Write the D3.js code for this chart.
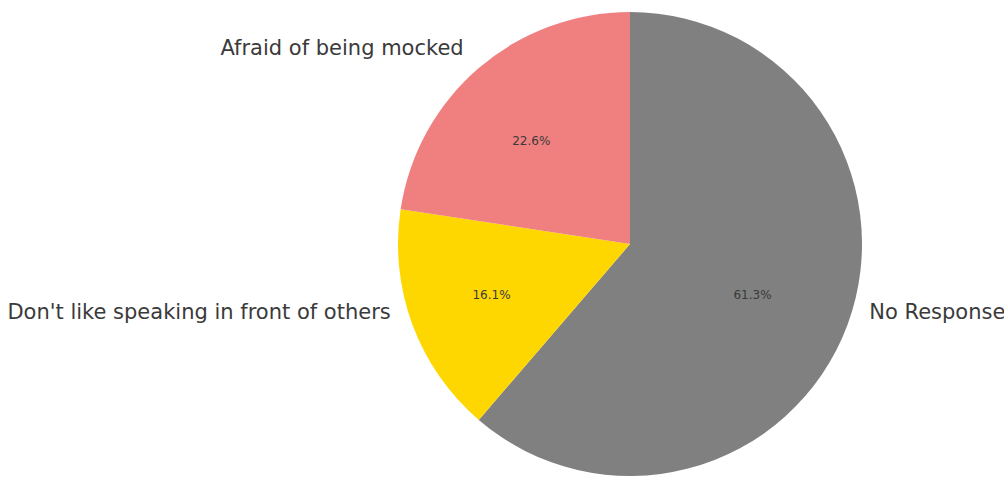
<!DOCTYPE html>
<html>
<head>
<meta charset="utf-8">
<script src="https://cdn.jsdelivr.net/npm/d3@7"></script>
<style>
  html, body { margin: 0; padding: 0; background: #fff; }
  svg { display: block; }
</style>
</head>
<body>
<svg id="chart" width="1004" height="483"></svg>
<script>
// Reasons given for not speaking up (share of respondents)
const categories = ["No Response", "Don't like speaking in front of others", "Afraid of being mocked"];
const values = [61.3, 16.1, 22.6];
const colors = ["#808080", "#FFD700", "#F08080"];

const width = 1004, height = 483;
const cx = 630, cy = 244, radius = 232;

const svg = d3.select("#chart");
const g = svg.append("g").attr("transform", `translate(${cx},${cy})`);

const data = categories.map((c, i) => ({ label: c, value: values[i], color: colors[i] }));

const pie = d3.pie().sort(null).value(d => d.value);
const arcs = pie(data);

const arc = d3.arc().innerRadius(0).outerRadius(radius);

g.selectAll("path.slice")
  .data(arcs)
  .join("path")
  .attr("class", "slice")
  .attr("d", arc)
  .attr("fill", d => d.data.color);

// percentage labels at 0.6 of the radius
const pctArc = d3.arc().innerRadius(radius * 0.6).outerRadius(radius * 0.6);
g.selectAll("text.pct")
  .data(arcs)
  .join("text")
  .attr("class", "pct")
  .attr("transform", d => {
    const [x, y] = pctArc.centroid(d);
    return `translate(${x - 8},${y + 3})`;
  })
  .attr("text-anchor", "middle")
  .attr("dominant-baseline", "central")
  .attr("font-family", "DejaVu Sans, sans-serif")
  .attr("font-size", 12)
  .attr("fill", "#3a3a3a")
  .text(d => d.data.value.toFixed(1) + "%");

// category labels just outside the rim; lower ones sit a little higher
const labelArc = d3.arc().innerRadius(radius * 1.1).outerRadius(radius * 1.1);
g.selectAll("text.cat")
  .data(arcs)
  .join("text")
  .attr("class", "cat")
  .attr("transform", d => {
    const [x, y] = labelArc.centroid(d);
    const ny = y > 0 ? y - 21 : y - 2;
    return `translate(${x},${ny})`;
  })
  .attr("text-anchor", d => {
    const [x] = labelArc.centroid(d);
    return x >= 0 ? "start" : "end";
  })
  .attr("dominant-baseline", "central")
  .attr("font-family", "DejaVu Sans, sans-serif")
  .attr("font-size", 21)
  .attr("fill", "#3a3a3a")
  .text(d => d.data.label);
</script>
</body>
</html>
